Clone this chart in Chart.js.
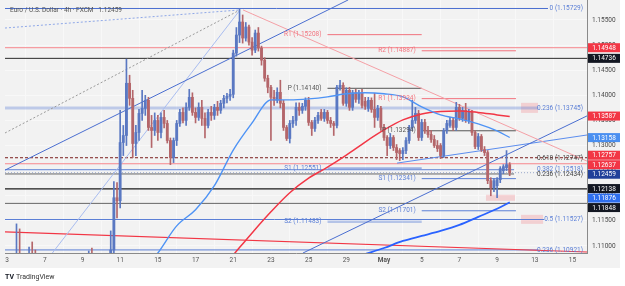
<!DOCTYPE html>
<html>
<head>
<meta charset="utf-8">
<script src="https://cdn.jsdelivr.net/npm/chart.js@4.4.1/dist/chart.umd.min.js"></script>
<style>
  html, body { margin: 0; padding: 0; background: #fff; }
  #wrap { width: 625px; height: 286px; }
</style>
</head>
<body>
<div id="wrap"><canvas id="chart" width="625" height="286"></canvas></div>
<script>
// x axis is in trading days from Apr 3, 6 candles (4h) per day
const dayLabels = ['3', '7', '9', '11', '15', '17', '21', '23', '25', '29', 'May', '5', '7', '9', '13', '15'];

const openP = [
  1.0960, 1.1000, 1.1050, 1.1060, 1.1070, 1.1050, 1.1040, 1.1030, 1.1060, 1.1040,
  1.1000, 1.0970, 1.0960, 1.0920, 1.0950, 1.0980, 1.0960, 1.0930, 1.0950, 1.0970,
  1.0990, 1.0980, 1.0960, 1.0970, 1.0980, 1.1000, 1.0990, 1.1010, 1.0990, 1.0970,
  1.0960, 1.0950, 1.0960, 1.1000, 1.1092, 1.1196, 1.1190, 1.1306, 1.1320, 1.1424,
  1.1394, 1.1304, 1.1326, 1.1364, 1.1374, 1.1390, 1.1336, 1.1330, 1.1350, 1.1326,
  1.1356, 1.1344, 1.1310, 1.1276, 1.1310, 1.1344, 1.1366, 1.1350, 1.1376, 1.1396,
  1.1366, 1.1356, 1.1376, 1.1354, 1.1340, 1.1366, 1.1360, 1.1376, 1.1370, 1.1384,
  1.1394, 1.1398, 1.1402, 1.1484, 1.1520, 1.1546, 1.1514, 1.1536, 1.1506, 1.1490,
  1.1524, 1.1494, 1.1470, 1.1434, 1.1416, 1.1396, 1.1390, 1.1406, 1.1384, 1.1336,
  1.1314, 1.1344, 1.1350, 1.1376, 1.1370, 1.1378, 1.1390, 1.1346, 1.1334, 1.1350,
  1.1366, 1.1354, 1.1366, 1.1350, 1.1344, 1.1340, 1.1416, 1.1420, 1.1384, 1.1410,
  1.1376, 1.1405, 1.1392, 1.1404, 1.1388, 1.1374, 1.1390, 1.1372, 1.1356, 1.1374,
  1.1336, 1.1316, 1.1300, 1.1316, 1.1296, 1.1290, 1.1284, 1.1290, 1.1310, 1.1336,
  1.1350, 1.1364, 1.1316, 1.1346, 1.1330, 1.1322, 1.1312, 1.1300, 1.1300, 1.1280,
  1.1330, 1.1340, 1.1350, 1.1336, 1.1376, 1.1354, 1.1370, 1.1350, 1.1366, 1.1326,
  1.1298, 1.1318, 1.1292, 1.1286, 1.1230, 1.1216, 1.1220, 1.1232, 1.1250, 1.1256,
  1.1262
];
const highP = [
  1.1010, 1.1060, 1.1080, 1.1144, 1.1134, 1.1070, 1.1060, 1.1098, 1.1108, 1.1092,
  1.1020, 1.0990, 1.0985, 1.0960, 1.1000, 1.1020, 1.0990, 1.0970, 1.0990, 1.1010,
  1.1030, 1.1000, 1.0990, 1.1000, 1.1020, 1.1040, 1.1090, 1.1096, 1.1030, 1.1010,
  1.0990, 1.0980, 1.1000, 1.1130, 1.1228, 1.1226, 1.1370, 1.1340, 1.1472, 1.1440,
  1.1410, 1.1340, 1.1372, 1.1410, 1.1400, 1.1396, 1.1360, 1.1365, 1.1360, 1.1365,
  1.1370, 1.1350, 1.1315, 1.1315, 1.1350, 1.1372, 1.1375, 1.1385, 1.1412, 1.1405,
  1.1375, 1.1385, 1.1390, 1.1365, 1.1372, 1.1378, 1.1382, 1.1388, 1.1390, 1.1400,
  1.1404, 1.1412, 1.1490, 1.1535, 1.1572, 1.1560, 1.1545, 1.1540, 1.1515, 1.1530,
  1.1535, 1.1498, 1.1475, 1.1440, 1.1420, 1.1410, 1.1415, 1.1430, 1.1390, 1.1340,
  1.1350, 1.1358, 1.1385, 1.1385, 1.1384, 1.1395, 1.1396, 1.1350, 1.1356, 1.1366,
  1.1372, 1.1372, 1.1370, 1.1356, 1.1348, 1.1420, 1.1430, 1.1425, 1.1415, 1.1416,
  1.1410, 1.1412, 1.1410, 1.1412, 1.1396, 1.1396, 1.1395, 1.1404, 1.1380, 1.1378,
  1.1342, 1.1320, 1.1324, 1.1320, 1.1302, 1.1294, 1.1296, 1.1316, 1.1340, 1.1390,
  1.1376, 1.1370, 1.1352, 1.1352, 1.1338, 1.1330, 1.1320, 1.1310, 1.1304, 1.1334,
  1.1350, 1.1356, 1.1356, 1.1386, 1.1382, 1.1376, 1.1384, 1.1372, 1.1370, 1.1330,
  1.1324, 1.1322, 1.1298, 1.1290, 1.1236, 1.1234, 1.1236, 1.1258, 1.1262, 1.1290,
  1.1266
];
const lowP = [
  1.0950, 1.0990, 1.1030, 1.1050, 1.1040, 1.1020, 1.1000, 1.1010, 1.1020, 1.0990,
  1.0950, 1.0940, 1.0890, 1.0880, 1.0930, 1.0940, 1.0920, 1.0900, 1.0930, 1.0950,
  1.0960, 1.0940, 1.0930, 1.0950, 1.0960, 1.0970, 1.0960, 1.0980, 1.0950, 1.0940,
  1.0930, 1.0920, 1.0940, 1.0970, 1.1080, 1.1156, 1.1176, 1.1280, 1.1300, 1.1380,
  1.1276, 1.1280, 1.1310, 1.1350, 1.1360, 1.1330, 1.1296, 1.1320, 1.1310, 1.1315,
  1.1335, 1.1305, 1.1262, 1.1266, 1.1300, 1.1338, 1.1345, 1.1340, 1.1370, 1.1360,
  1.1345, 1.1350, 1.1340, 1.1315, 1.1335, 1.1350, 1.1352, 1.1360, 1.1364, 1.1375,
  1.1385, 1.1390, 1.1395, 1.1478, 1.1505, 1.1504, 1.1508, 1.1500, 1.1480, 1.1485,
  1.1488, 1.1460, 1.1428, 1.1405, 1.1310, 1.1380, 1.1385, 1.1375, 1.1330, 1.1310,
  1.1305, 1.1336, 1.1340, 1.1360, 1.1364, 1.1370, 1.1340, 1.1320, 1.1328, 1.1344,
  1.1350, 1.1348, 1.1344, 1.1336, 1.1320, 1.1335, 1.1410, 1.1380, 1.1378, 1.1370,
  1.1370, 1.1386, 1.1384, 1.1375, 1.1372, 1.1368, 1.1366, 1.1336, 1.1350, 1.1330,
  1.1310, 1.1280, 1.1294, 1.1290, 1.1272, 1.1270, 1.1272, 1.1284, 1.1304, 1.1330,
  1.1344, 1.1310, 1.1310, 1.1324, 1.1316, 1.1306, 1.1296, 1.1288, 1.1274, 1.1276,
  1.1324, 1.1336, 1.1330, 1.1330, 1.1350, 1.1348, 1.1346, 1.1344, 1.1320, 1.1294,
  1.1292, 1.1288, 1.1280, 1.1224, 1.1200, 1.1208, 1.1196, 1.1226, 1.1244, 1.1250,
  1.1240
];
const closeP = [
  1.1000, 1.1050, 1.1060, 1.1070, 1.1050, 1.1040, 1.1030, 1.1060, 1.1040, 1.1000,
  1.0970, 1.0960, 1.0920, 1.0950, 1.0980, 1.0960, 1.0930, 1.0950, 1.0970, 1.0990,
  1.0980, 1.0960, 1.0970, 1.0980, 1.1000, 1.0990, 1.1010, 1.0990, 1.0970, 1.0960,
  1.0950, 1.0960, 1.0980, 1.1092, 1.1196, 1.1190, 1.1306, 1.1320, 1.1424, 1.1394,
  1.1304, 1.1326, 1.1364, 1.1374, 1.1390, 1.1336, 1.1330, 1.1350, 1.1326, 1.1356,
  1.1344, 1.1310, 1.1276, 1.1310, 1.1344, 1.1366, 1.1350, 1.1376, 1.1396, 1.1366,
  1.1356, 1.1376, 1.1354, 1.1340, 1.1366, 1.1360, 1.1376, 1.1370, 1.1384, 1.1394,
  1.1398, 1.1402, 1.1484, 1.1520, 1.1546, 1.1514, 1.1536, 1.1506, 1.1490, 1.1524,
  1.1494, 1.1470, 1.1434, 1.1416, 1.1396, 1.1390, 1.1406, 1.1384, 1.1336, 1.1314,
  1.1344, 1.1350, 1.1376, 1.1370, 1.1378, 1.1390, 1.1346, 1.1334, 1.1350, 1.1360,
  1.1354, 1.1366, 1.1350, 1.1344, 1.1340, 1.1416, 1.1420, 1.1384, 1.1410, 1.1376,
  1.1405, 1.1392, 1.1404, 1.1380, 1.1378, 1.1390, 1.1372, 1.1356, 1.1374, 1.1336,
  1.1316, 1.1300, 1.1316, 1.1296, 1.1286, 1.1284, 1.1290, 1.1310, 1.1336, 1.1350,
  1.1364, 1.1316, 1.1346, 1.1330, 1.1322, 1.1312, 1.1300, 1.1294, 1.1280, 1.1330,
  1.1344, 1.1350, 1.1336, 1.1376, 1.1354, 1.1370, 1.1350, 1.1366, 1.1326, 1.1298,
  1.1318, 1.1292, 1.1286, 1.1230, 1.1216, 1.1230, 1.1232, 1.1254, 1.1258, 1.1262,
  1.12459
];

// moving averages, read once per trading day
const fastDays = [7, 8, 9, 10, 11, 12, 13, 14, 15, 16, 17, 18, 19, 20, 21, 22, 23, 24, 25, 26, 26.67];
const fastMA = [1.1040, 1.1086, 1.1140, 1.1172, 1.1220, 1.1291, 1.1345, 1.1391, 1.1391, 1.1393, 1.1397,
                1.1403, 1.1405, 1.1403, 1.1397, 1.1377, 1.1361, 1.1353, 1.1343, 1.1329, 1.1316];
const midDays = [12, 13, 14, 15, 16, 17, 18, 19, 20, 21, 22, 23, 24, 25, 26, 26.67];
const midMA = [1.1082, 1.1126, 1.1168, 1.1206, 1.1235, 1.1257, 1.1281, 1.1307, 1.1331, 1.1351, 1.1363,
               1.1368, 1.1369, 1.1366, 1.1361, 1.1358];
const slowDays = [19, 20, 21, 22, 23, 24, 25, 26, 26.67];
const slowMA = [1.1084, 1.1096, 1.1110, 1.1120, 1.1130, 1.1142, 1.1158, 1.1174, 1.1187];

// trend lines: [day1, price1, day2, price2]
const trendLines = [
  [-0.11, 1.1251, 18.1, 1.1590],
  [-0.11, 1.1325, 12.36, 1.1570],
  [-0.11, 1.1534, 12.36, 1.1570],
  [2.3, 1.1081, 12.36, 1.1570],
  [12.52, 1.1570, 30.77, 1.1269],
  [15.7, 1.1086, 30.77, 1.1359],
  [20.69, 1.1265, 30.77, 1.1321],
  [-0.11, 1.1128, 30.77, 1.1088]
];

// horizontal levels and where they stop (days)
const levelPrices = [1.15729, 1.14948, 1.14736, 1.13745, 1.12757, 1.12637, 1.12518, 1.12459, 1.12434, 1.12138, 1.11848, 1.11527, 1.10921];
const levelEnds = [28.7, 30.77, 30.77, 28.2, 30.77, 30.77, 26.9, 30.77, 26.9, 30.77, 30.77, 28.5, 28.2];

// weekly pivots
const pivotNames = ['R1', 'R2', 'P', 'R1', 'P', 'S1', 'S1', 'S2', 'S2'];
const pivotPrices = [1.15208, 1.14887, 1.14140, 1.13934, 1.13294, 1.12551, 1.12341, 1.11483, 1.11701];
const pivotStart = [17, 22, 17, 22, 22, 17, 22, 17, 22];

// fibonacci labels
const fibNames = ['0', '0.236', '0.618', '0.382', '0.236', '0.5', '0.236'];
const fibPrices = [1.15729, 1.13745, 1.12747, 1.12518, 1.12434, 1.11527, 1.10921];

// shaded zones: [day1, day2, priceLow, priceHigh]
const zones = [
  [27.27, 28.17, 1.1365, 1.1385],
  [27.27, 28.44, 1.1144, 1.1162],
  [25.41, 26.95, 1.1190, 1.1202]
];

// price tags on the right axis
const tagPrices = [1.14948, 1.14736, 1.13587, 1.13158, 1.12757, 1.12637, 1.12459, 1.12138, 1.11876, 1.11848];
const tagColors = ['#f23645', '#131722', '#f23645', '#4a8ff0', '#f23645', '#f23645', '#21409a', '#131722', '#2f6fee', '#131722'];

const FONT = "Roboto, 'Liberation Sans', sans-serif";
Chart.defaults.font.family = FONT;

const UP = '#5a78c2';
const DOWN = '#b4666a';
const candleColors = closeP.map((c, i) => c >= openP[i] ? UP : DOWN);

const X_MIN = -0.11, X_MAX = 30.77;

const trendStyle = [
  { color: '#4a6ed0', width: 1, dash: [] },
  { color: '#9a9a9a', width: 1, dash: [2, 2] },
  { color: '#8fa8e8', width: 1, dash: [2, 2] },
  { color: '#a9bdf0', width: 1, dash: [] },
  { color: '#f5a0a6', width: 1, dash: [] },
  { color: '#4a6ed0', width: 1, dash: [] },
  { color: '#5b8def', width: 1, dash: [] },
  { color: '#f23645', width: 1.2, dash: [] }
];
const levelStyle = [
  { color: '#4a6ed0', width: 1, dash: [] },
  { color: '#f7868c', width: 1, dash: [] },
  { color: '#2a2a2a', width: 1, dash: [] },
  { color: 'rgba(91,127,214,0.35)', width: 3, dash: [] },
  { color: '#7a1c1c', width: 1, dash: [3, 2] },
  { color: '#f7868c', width: 1, dash: [] },
  { color: '#5b7fd6', width: 1, dash: [] },
  { color: '#9aa9cc', width: 1, dash: [1, 2] },
  { color: '#666666', width: 1, dash: [] },
  { color: '#1a1a1a', width: 1.3, dash: [] },
  { color: '#666666', width: 1, dash: [] },
  { color: '#5b7fd6', width: 1, dash: [] },
  { color: '#5b7fd6', width: 1, dash: [] }
];
const pivotColor = { R: '#f2737e', P: '#555555', S: '#5b7fd6' };

function lineSet(points, color, width, dash, order, smooth) {
  return {
    type: 'line',
    data: points,
    borderColor: color,
    borderWidth: width,
    borderDash: dash,
    pointRadius: 0,
    fill: false,
    order: order,
    cubicInterpolationMode: smooth ? 'monotone' : 'default',
    tension: 0
  };
}

const datasets = [];

// moving averages on top
datasets.push(lineSet(fastDays.map((d, i) => ({ x: d, y: fastMA[i] })), '#4e93f5', 1.4, [], 0, true));
datasets.push(lineSet(midDays.map((d, i) => ({ x: d, y: midMA[i] })), '#f23645', 1.5, [], 0, true));
datasets.push(lineSet(slowDays.map((d, i) => ({ x: d, y: slowMA[i] })), '#2962ff', 1.8, [], 0, true));

// candles
datasets.push({
  type: 'bar',
  data: closeP.map((c, i) => ({ x: i / 6, y: [openP[i], c] })),
  backgroundColor: candleColors,
  barThickness: 2.2,
  minBarLength: 1,
  grouped: false,
  order: 1
});
datasets.push({
  type: 'bar',
  data: closeP.map((c, i) => ({ x: i / 6, y: [lowP[i], highP[i]] })),
  backgroundColor: candleColors,
  barThickness: 1,
  grouped: false,
  order: 2
});

trendLines.forEach((t, i) => {
  const s = trendStyle[i];
  datasets.push(lineSet([{ x: t[0], y: t[1] }, { x: t[2], y: t[3] }], s.color, s.width, s.dash, 3, false));
});

pivotPrices.forEach((p, i) => {
  const kind = pivotNames[i][0];
  const wide = i === 7;
  const col = wide ? 'rgba(91,127,214,0.4)' : pivotColor[kind];
  datasets.push(lineSet([{ x: pivotStart[i], y: p }, { x: pivotStart[i] + 5, y: p }], col, wide ? 2.5 : 1, [], 3, false));
});

levelPrices.forEach((p, i) => {
  const s = levelStyle[i];
  datasets.push(lineSet([{ x: X_MIN, y: p }, { x: levelEnds[i], y: p }], s.color, s.width, s.dash, 4, false));
});

function spread(ys, gap) {
  for (let k = 0; k < 80; k++) {
    for (let i = 1; i < ys.length; i++) {
      const d = ys[i] - ys[i - 1];
      if (d < gap) {
        const m = (gap - d) / 2;
        ys[i - 1] -= m;
        ys[i] += m;
      }
    }
  }
  return ys;
}

const overlay = {
  id: 'overlay',
  beforeDraw(chart) {
    const ctx = chart.ctx;
    ctx.save();
    ctx.fillStyle = '#f2f2f2';
    ctx.fillRect(0, 0, 620, 268);
    ctx.restore();
  },
  beforeDatasetsDraw(chart) {
    const { ctx, chartArea, scales: { x, y } } = chart;
    ctx.save();
    ctx.beginPath();
    ctx.rect(chartArea.left, chartArea.top, chartArea.right - chartArea.left, chartArea.bottom - chartArea.top);
    ctx.clip();
    ctx.fillStyle = 'rgba(242,54,69,0.18)';
    zones.forEach(z => {
      const x1 = x.getPixelForValue(z[0]), x2 = x.getPixelForValue(z[1]);
      const y1 = y.getPixelForValue(z[3]), y2 = y.getPixelForValue(z[2]);
      ctx.fillRect(x1, y1, x2 - x1, y2 - y1);
    });
    ctx.restore();
  },
  afterDatasetsDraw(chart) {
    const { ctx, chartArea, scales: { x, y } } = chart;
    ctx.save();
    ctx.font = '6.5px ' + FONT;
    ctx.textBaseline = 'middle';
    ctx.textAlign = 'right';
    pivotPrices.forEach((p, i) => {
      ctx.fillStyle = pivotColor[pivotNames[i][0]];
      ctx.fillText(pivotNames[i] + ' (' + p.toFixed(5) + ')', x.getPixelForValue(pivotStart[i]) - 6, y.getPixelForValue(p));
    });
    fibPrices.forEach((p, i) => {
      const dark = i === 2 || i === 4;
      ctx.fillStyle = dark ? '#444' : '#5b7fd6';
      ctx.fillText(fibNames[i] + ' (' + p.toFixed(5) + ')', chartArea.right - 4, y.getPixelForValue(p));
    });
    ctx.restore();
  },
  afterDraw(chart) {
    const { ctx, chartArea, scales: { y } } = chart;
    ctx.save();
    const ys = spread(tagPrices.map(p => y.getPixelForValue(p)), 9.5);
    ctx.font = '6.5px ' + FONT;
    ctx.textBaseline = 'middle';
    ctx.textAlign = 'center';
    ys.forEach((py, i) => {
      ctx.fillStyle = tagColors[i];
      ctx.fillRect(chartArea.right + 1, py - 4.5, 32, 9);
      ctx.fillStyle = '#ffffff';
      ctx.fillText(tagPrices[i].toFixed(5), chartArea.right + 17, py + 0.5);
    });

    ctx.textAlign = 'left';
    ctx.fillStyle = '#555';
    ctx.fillText('Euro / U.S. Dollar \u00b7 4h \u00b7 FXCM   ' + closeP[closeP.length - 1].toFixed(5), 10, 10);

    ctx.fillStyle = '#131722';
    ctx.font = 'bold 7px ' + FONT;
    ctx.fillText('TV', 5, 277);
    ctx.font = '7px ' + FONT;
    ctx.fillStyle = '#333';
    ctx.fillText('TradingView', 16, 277);
    ctx.restore();
  }
};

new Chart(document.getElementById('chart').getContext('2d'), {
  type: 'bar',
  data: { datasets: datasets },
  options: {
    responsive: false,
    animation: false,
    events: [],
    layout: { padding: { left: 5, right: 0, top: 0, bottom: 0 } },
    plugins: { legend: { display: false }, tooltip: { enabled: false } },
    scales: {
      x: {
        type: 'linear',
        min: X_MIN,
        max: X_MAX,
        offset: false,
        afterBuildTicks: function(scale) {
          scale.ticks = dayLabels.map((_, i) => ({ value: i * 2 }));
        },
        ticks: {
          autoSkip: false,
          maxRotation: 0,
          padding: 3,
          color: '#555',
          font: function(c) {
            return { size: 6.5, weight: c.tick && c.tick.value === 20 ? 'bold' : 'normal' };
          },
          callback: function(value, index) {
            return dayLabels[index];
          }
        },
        grid: { color: '#f8f8f8', drawTicks: false },
        border: { color: '#8a8a8a' },
        afterFit: function(scale) {
          scale.height = 33;
          scale.paddingLeft = 0;
          scale.paddingRight = 0;
        }
      },
      y: {
        position: 'right',
        min: 1.10860,
        max: 1.15898,
        ticks: {
          stepSize: 0.005,
          includeBounds: false,
          padding: 5,
          color: '#4a4a4a',
          font: { size: 6.5 },
          callback: function(value) {
            return value.toFixed(5);
          }
        },
        grid: { color: '#f8f8f8', drawTicks: false },
        border: { color: '#8a8a8a' },
        afterFit: function(scale) {
          scale.width = 38;
          scale.paddingTop = 0;
          scale.paddingBottom = 0;
        }
      }
    }
  },
  plugins: [overlay]
});
</script>
</body>
</html>
